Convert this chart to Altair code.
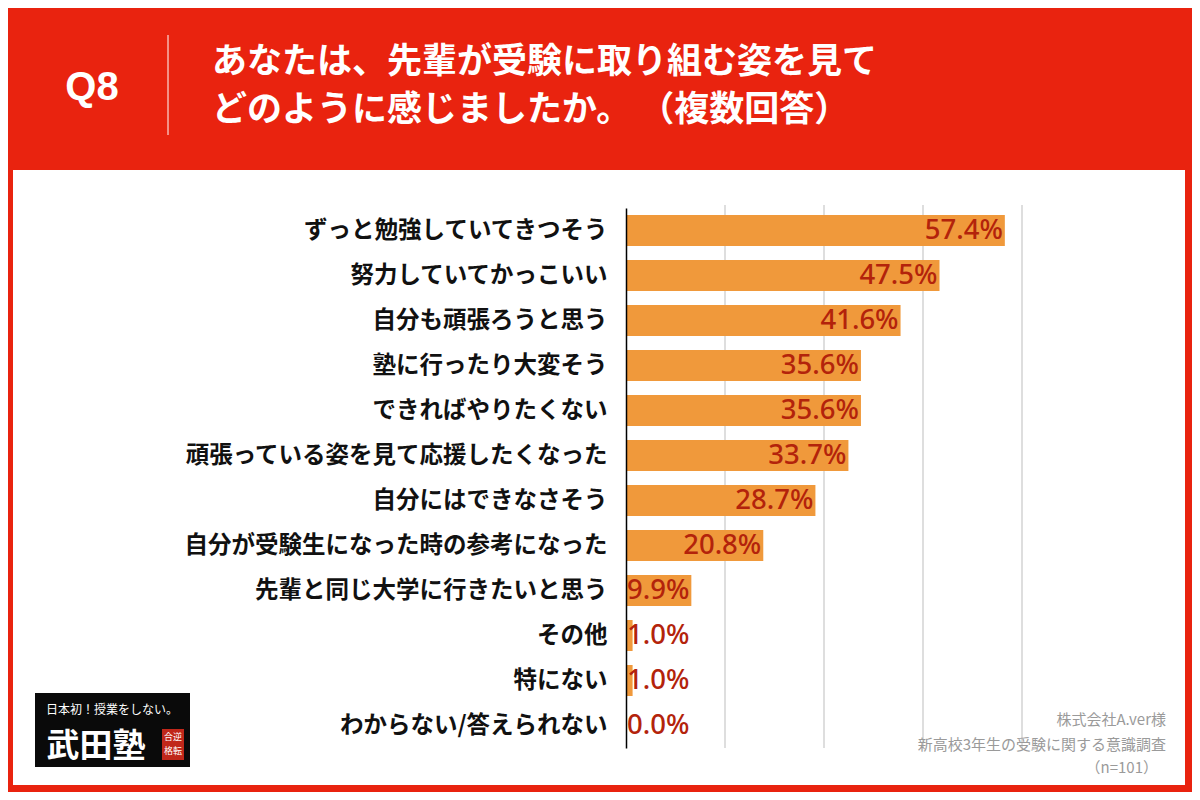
import altair as alt
import pandas as pd

categories = [
    "ずっと勉強していてきつそう",
    "努力していてかっこいい",
    "自分も頑張ろうと思う",
    "塾に行ったり大変そう",
    "できればやりたくない",
    "頑張っている姿を見て応援したくなった",
    "自分にはできなさそう",
    "自分が受験生になった時の参考になった",
    "先輩と同じ大学に行きたいと思う",
    "その他",
    "特にない",
    "わからない/答えられない",
]
values = [57.4, 47.5, 41.6, 35.6, 35.6, 33.7, 28.7, 20.8, 9.9, 1.0, 1.0, 0.0]
grid_ticks = [15, 30, 45, 60]

title_q = "Q8"
title_lines = ["あなたは、先輩が受験に取り組む姿を見て", "どのように感じましたか。 （複数回答）"]
source_lines = ["株式会社A.ver様", "新高校3年生の受験に関する意識調査", "（n=101）"]
logo_top = "日本初！授業をしない。"
logo_main = "武田塾"

df = pd.DataFrame({"item": categories, "pct": values})
df["label"] = [f"{v:.1f}%" for v in values]
grid_df = pd.DataFrame({"g": grid_ticks})
one = pd.DataFrame({"a": [0]})

W, H = 396, 540
JP = "Noto Sans CJK JP"
RED = "#e9230f"
ORANGE = "#f0993b"
VAL = "#b3230b"

xscale = alt.Scale(domain=[0, 60])
yscale = alt.Scale(domain=categories, paddingInner=0, paddingOuter=0)

y_enc = alt.Y(
    "item:N",
    sort=categories,
    scale=yscale,
    axis=alt.Axis(
        title=None, labelFont=JP, labelFontSize=23.5, labelFontWeight="bold",
        labelColor="#111", labelPadding=19, ticks=False, domain=True,
        domainColor="#000", domainWidth=1.5, labelLimit=600, zindex=2,
    ),
)
x_enc = alt.X("pct:Q", scale=xscale, axis=None)

panel = alt.Chart(one).mark_rect(color="white").encode(
    x=alt.value(-613), x2=alt.value(559), y=alt.value(-38), y2=alt.value(577)
)

grid = alt.Chart(grid_df).mark_rule(color="#bdbdbd", strokeWidth=1).encode(
    x=alt.X("g:Q", scale=xscale, axis=None), y=alt.value(-3), y2=alt.value(H)
)

bars = alt.Chart(df).mark_bar(height=31, color=ORANGE).encode(x=x_enc, y=y_enc)

txt_in = alt.Chart(df).transform_filter("datum.pct >= 10").mark_text(
    align="right", baseline="middle", dx=-2, font="Noto Sans",
    fontSize=27.5, fontWeight=500, color=VAL
).encode(x=x_enc, y=y_enc, text="label:N")

txt_out = alt.Chart(df).transform_filter("datum.pct < 10").mark_text(
    align="left", baseline="middle", dx=1, font="Noto Sans",
    fontSize=27.5, fontWeight=500, color=VAL
).encode(x=alt.datum(0, scale=xscale), y=y_enc, text="label:N")

def label(text, x, y, size, color="white", weight="normal", align="left", font=JP):
    return alt.Chart(one).mark_text(
        align=align, baseline="middle", fontSize=size, fontWeight=weight,
        color=color, font=font
    ).encode(x=alt.value(x), y=alt.value(y), text=alt.value(text))

header = [
    label(title_q, -534, -120, 40, weight="bold", align="center", font="Liberation Sans"),
    alt.Chart(one).mark_rule(color="white", strokeWidth=1).encode(
        x=alt.value(-458), y=alt.value(-173), y2=alt.value(-73)
    ),
    label(title_lines[0], -414, -146, 35, weight="bold"),
    label(title_lines[1], -414, -98, 35, weight="bold"),
]

src = [
    label(source_lines[0], 540, 512, 15, color="#9a9a9a", align="right"),
    label(source_lines[1], 540, 537, 15, color="#9a9a9a", align="right"),
    label(source_lines[2], 532, 560, 15, color="#9a9a9a", align="right"),
]

logo = [
    alt.Chart(one).mark_rect(color="#0a0a0a").encode(
        x=alt.value(-591), x2=alt.value(-436), y=alt.value(485), y2=alt.value(559)
    ),
    label(logo_top, -514, 502, 12, align="center"),
    label(logo_main, -530, 539, 33, weight="bold", align="center"),
    alt.Chart(one).mark_rect(color="#c0271a").encode(
        x=alt.value(-464), x2=alt.value(-442), y=alt.value(521), y2=alt.value(552)
    ),
    label("合逆", -453, 529, 9, align="center"),
    label("格転", -453, 543, 9, align="center"),
]

chart = alt.layer(
    panel, *logo, grid, bars, txt_in, txt_out, *header, *src
).properties(
    width=W, height=H, background=RED,
    padding={"left": 618, "top": 200, "right": 170, "bottom": 44},
    autosize=alt.AutoSizeParams(type="none"),
).configure_view(stroke=None)

chart.save("out.html", embed_options={"renderer": "svg", "actions": False})
